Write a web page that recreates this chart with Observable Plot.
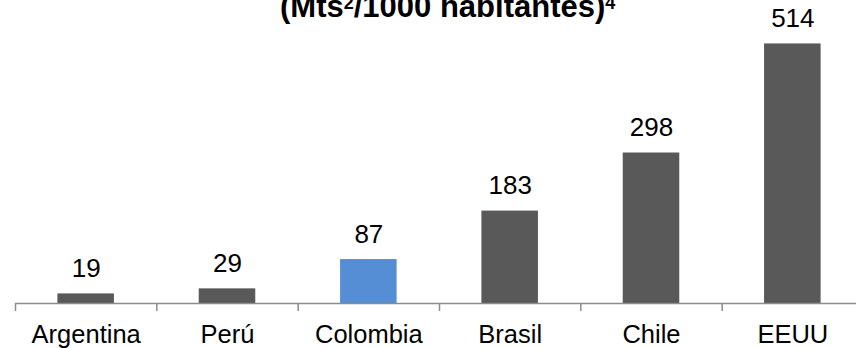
<!DOCTYPE html>
<html>
<head>
<meta charset="utf-8">
<script src="https://cdn.jsdelivr.net/npm/d3@7"></script>
<script src="https://cdn.jsdelivr.net/npm/@observablehq/plot@0.6"></script>
<style>
  body { margin: 0; background: #fff; }
  #chart { position: relative; width: 856px; height: 348px; overflow: hidden;
           font-family: "Liberation Sans", Arial, sans-serif; }
  #title { position: absolute; left: 280px; top: -9px; white-space: nowrap;
           font-weight: bold; font-size: 31px; line-height: 31px; color: #000; }
  #title .sup { font-size: 18px; position: relative; top: -8px; }
  #chart svg { position: absolute; left: 0; top: 0; }
</style>
</head>
<body>
<div id="chart">
  <div id="title">(Mts<span class="sup">2</span>/1000 habitantes)<span class="sup">4</span></div>
</div>
<script>
// Square metres of public space per 1000 inhabitants, by country
const countries = ["Argentina", "Perú", "Colombia", "Brasil", "Chile", "EEUU"];
const values = [19, 29, 87, 183, 298, 514];
const highlighted = "Colombia";

const barColor = "#595959";
const highlightColor = "#558ED5";
const axisColor = "#8c8c8c";

const rows = countries.map((country, i) => ({ country, value: values[i], i }));
const boundaries = d3.range(countries.length + 1);

const chart = Plot.plot({
  width: 856,
  height: 348,
  marginTop: 0,
  marginBottom: 45,
  marginLeft: 15,
  marginRight: -7,
  style: { fontFamily: "'Liberation Sans', Arial, sans-serif", background: "transparent", overflow: "visible" },
  x: { domain: [0, countries.length], axis: null },
  y: { domain: [0, 600], axis: null },
  marks: [
    Plot.rectY(rows, {
      x1: d => d.i + 0.3,
      x2: d => d.i + 0.7,
      y: "value",
      fill: d => d.country === highlighted ? highlightColor : barColor
    }),
    Plot.ruleY([0], { stroke: axisColor, strokeWidth: 1.5 }),
    Plot.axisX(boundaries, {
      tickSize: 8,
      tickFormat: () => "",
      stroke: axisColor,
      strokeWidth: 1.5
    }),
    Plot.text(rows, {
      x: d => d.i + 0.5,
      y: "value",
      text: d => String(d.value),
      lineAnchor: "bottom",
      dy: -17,
      fontSize: 26,
      fill: "#000"
    }),
    Plot.text(rows, {
      x: d => d.i + 0.5,
      y: 0,
      text: "country",
      lineAnchor: "top",
      dy: 21,
      fontSize: 25.5,
      fill: "#000"
    })
  ]
});

document.getElementById("chart").appendChild(chart);
</script>
</body>
</html>
